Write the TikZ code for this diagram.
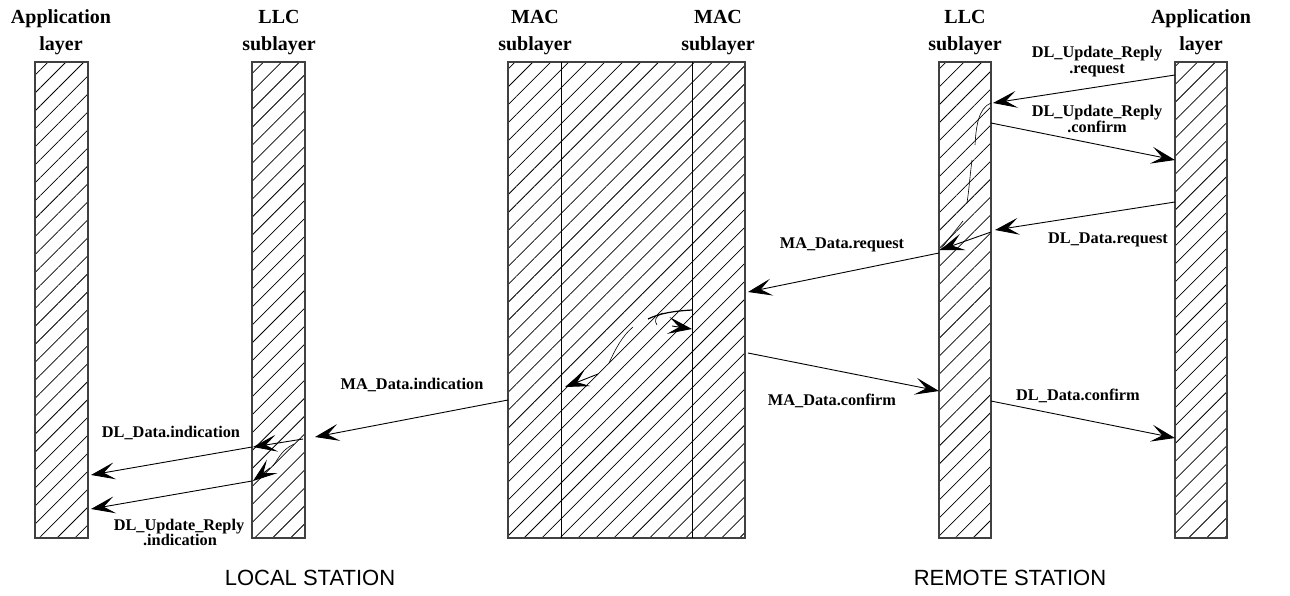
\documentclass[tikz,border=0pt]{standalone}
\usepackage{fontspec}
\setmainfont{Liberation Serif}
\newfontfamily\sansf{Liberation Sans}
\usetikzlibrary{patterns.meta,arrows.meta}
\begin{document}
\begin{tikzpicture}[x=1pt,y=-1pt,
  bar/.style={draw=black!75, line width=1.2pt, inner sep=0pt, outer sep=0pt,
    pattern={Lines[angle=45,distance=12.7pt,line width=0.75pt]}},
  head/.style={font=\bfseries\fontsize{20}{22}\selectfont, anchor=base, inner sep=0pt},
  lab/.style={font=\bfseries\fontsize{16.3}{18}\selectfont, anchor=base, inner sep=0pt},
  station/.style={font=\sansf\fontsize{22}{24}\selectfont, anchor=center, inner sep=0pt},
  msg/.style={line width=0.9pt, -{Stealth[length=24pt,width=17pt,inset=11pt]}},
  wig/.style={line width=0.6pt},
]
\useasboundingbox (0,0) rectangle (1290,595);

% layer bars
\node[bar, minimum width=53pt, minimum height=476pt, anchor=north west] (appL) at (35,62) {};
\node[bar, minimum width=53pt, minimum height=476pt, anchor=north west] (llcL) at (252,62) {};
\node[bar, minimum width=237pt, minimum height=476pt, anchor=north west] (mac) at (508,62) {};
\node[bar, minimum width=52pt, minimum height=476pt, anchor=north west] (llcR) at (939,62) {};
\node[bar, minimum width=52pt, minimum height=476pt, anchor=north west] (appR) at (1175,62) {};
\coordinate (macA) at (561,62);
\coordinate (macB) at (561,538);
\coordinate (macC) at (692,62);
\coordinate (macD) at (692,538);
\draw[line width=1pt] (macA) -- (macB);
\draw[line width=1pt] (macC) -- (macD);

% headers
\node[head] (h1a) at (61,23) {Application};
\node[head] (h1b) at (61,50) {layer};
\node[head] (h2a) at (279,23) {LLC};
\node[head] (h2b) at (279,50) {sublayer};
\node[head] (h3a) at (535,23) {MAC};
\node[head] (h3b) at (535,50) {sublayer};
\node[head] (h4a) at (718,23) {MAC};
\node[head] (h4b) at (718,50) {sublayer};
\node[head] (h5a) at (965,23) {LLC};
\node[head] (h5b) at (965,50) {sublayer};
\node[head] (h6a) at (1201,23) {Application};
\node[head] (h6b) at (1201,50) {layer};

% endpoints of messages
\coordinate (r1s) at (1175,75);  \coordinate (r1e) at (993,103);
\coordinate (r2s) at (991,123);  \coordinate (r2e) at (1175,160);
\coordinate (r3s) at (1175,202); \coordinate (r3e) at (995,230);
\coordinate (r4s) at (939,253);  \coordinate (r4e) at (748,292);
\coordinate (r5s) at (748,353);  \coordinate (r5e) at (939,391);
\coordinate (r6s) at (991,401);  \coordinate (r6e) at (1175,438);
\coordinate (l1s) at (508,400);  \coordinate (l1e) at (315,437);
\coordinate (l2s) at (252,447);  \coordinate (l2e) at (91,475);
\coordinate (l3s) at (252,481);  \coordinate (l3e) at (91,509);

\draw[msg] (r1s) -- (r1e);
\draw[msg] (r2s) -- (r2e);
\draw[msg] (r3s) -- (r3e);
\draw[msg] (r4s) -- (r4e);
\draw[msg] (r5s) -- (r5e);
\draw[msg] (r6s) -- (r6e);
\draw[msg] (l1s) -- (l1e);
\draw[msg] (l2s) -- (l2e);
\draw[msg] (l3s) -- (l3e);

% internal processing strokes: right LLC
\coordinate (w1) at (991,103);
\coordinate (w2) at (975,145);
\coordinate (w3) at (972,160);
\coordinate (w4) at (967,203);
\coordinate (w5) at (963,221);
\coordinate (w6) at (940,250);
\coordinate (w7) at (991,232);
\draw[wig] (w1) .. controls (978,108) and (976,128) .. (w2);
\draw[wig] (w3) .. controls (970,175) and (969,190) .. (w4);
\draw[wig] (w5) -- (w6);
\draw[msg] (w7) -- (w6);

% internal strokes: MAC
\coordinate (m1) at (692,310);
\coordinate (m2) at (648,319);
\coordinate (m3) at (663,313);
\coordinate (m4) at (657,325);
\coordinate (m5) at (672,326);
\coordinate (m6) at (692,329);
\coordinate (m7) at (633,327);
\coordinate (m8) at (609,363);
\coordinate (m9) at (598,374);
\coordinate (m10) at (565,387);
\draw[line width=1.2pt] (m1) .. controls (675,311) and (660,313) .. (m2);
\draw[wig] (m3) .. controls (655,316) and (654,321) .. (m4);
\draw[msg] (m5) -- (m6);
\draw[wig] (m7) .. controls (622,336) and (615,350) .. (m8);
\draw[msg] (m9) -- (m10);

% internal strokes: left LLC
\coordinate (n1) at (303,439);
\coordinate (n2) at (253,447);
\coordinate (n3) at (294,444);
\coordinate (n4) at (273,466);
\coordinate (n5) at (270,468);
\coordinate (n6) at (253,481);
\draw[msg] (n1) -- (n2);
\draw[wig] (n3) .. controls (282,450) and (280,456) .. (n4);
\draw[msg] (n5) -- (n6);

% labels
\node[lab] (t1a) at (1097,57) {DL\_Update\_Reply};
\node[lab] (t1b) at (1097,73) {.request};
\node[lab] (t2a) at (1097,116) {DL\_Update\_Reply};
\node[lab] (t2b) at (1097,132) {.confirm};
\node[lab] (t3) at (1108,243) {DL\_Data.request};
\node[lab] (t4) at (842,248) {MA\_Data.request};
\node[lab] (t5) at (832,405) {MA\_Data.confirm};
\node[lab] (t6) at (1078,400) {DL\_Data.confirm};
\node[lab] (t7) at (412,389) {MA\_Data.indication};
\node[lab] (t8) at (171,437) {DL\_Data.indication};
\node[lab] (t9a) at (179,530) {DL\_Update\_Reply};
\node[lab] (t9b) at (180,545) {.indication};

\node[station] (s1) at (310,578) {LOCAL STATION};
\node[station] (s2) at (1010,578) {REMOTE STATION};
\end{tikzpicture}
\end{document}
